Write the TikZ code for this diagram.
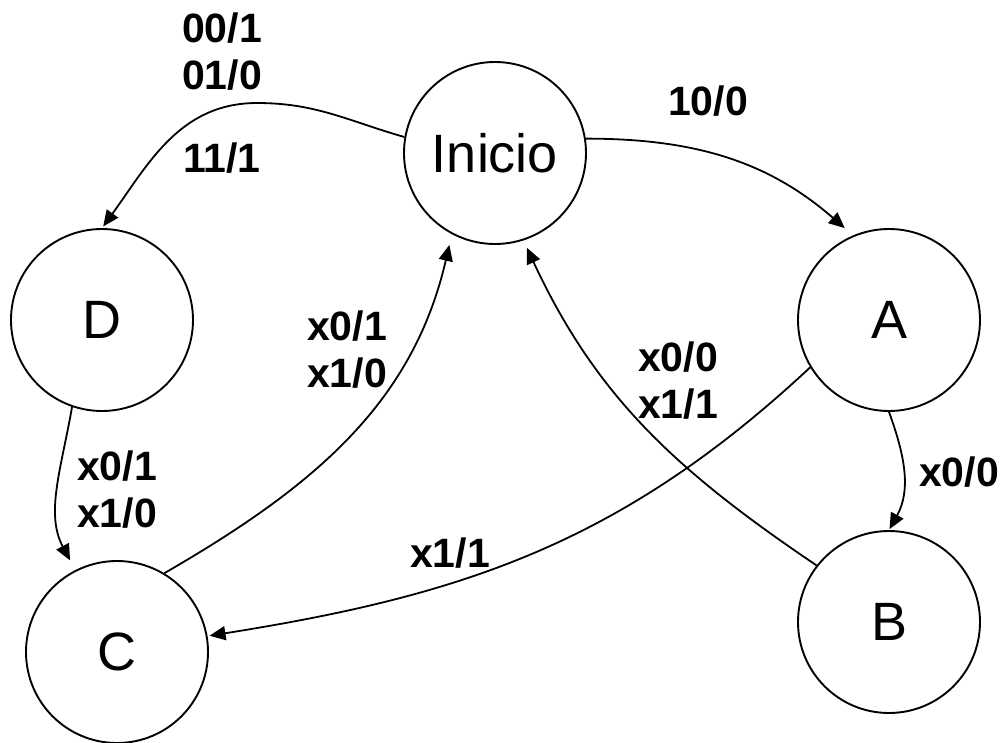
\documentclass[tikz,border=0pt]{standalone}
\usepackage{fontspec}
\setmainfont{Liberation Sans}
\usetikzlibrary{arrows.meta}
\tikzset{
  state/.style={circle,draw=black,line width=1.9pt,minimum size=182pt,inner sep=0pt,font=\fontsize{54}{60}\selectfont},
  lbl/.style={align=left,inner sep=0pt,font=\fontsize{41}{47}\selectfont\bfseries},
  edge/.style={line width=1.8pt,-{Triangle[length=16pt,width=14pt]}}
}
\begin{document}
\begin{tikzpicture}[x=1pt,y=1pt]
\useasboundingbox (0,0) rectangle (1007,-742);
\node[state] (ini) at (495,-153) {Inicio};
\node[state] (D) at (102,-320) {D};
\node[state] (A) at (889,-320) {A};
\node[state] (C) at (117,-652) {C};
\node[state] (B) at (889,-622) {B};
\coordinate (k1) at (257,-103);
\draw[edge,shorten >=2pt] (ini.170) to[out=164,in=0] (k1) to[out=180,in=54] (D.90);
\draw[edge,shorten >=11pt] (ini.9) to[out=0,in=139] (A.113);
\draw[edge,shorten >=11pt] (D.251) to[out=260,in=118] (C.117);
\draw[edge,shorten >=11pt] (C.59) to[out=30,in=257] (ini.242);
\draw[edge,shorten >=8pt] (B.142) to[out=146,in=295] (ini.288);
\draw[edge,shorten >=1pt] (A.270) to[out=290,in=61] (B.90);
\draw[edge,shorten >=2pt] (A.211) to[out=223,in=9] (C.10);
\node[lbl] (l1) at (222,-52) {00/1\\01/0};
\node[lbl] (l2) at (222,-158) {11/1};
\node[lbl] (l3) at (708,-101) {10/0};
\node[lbl] (l4) at (347,-350) {x0/1\\x1/0};
\node[lbl] (l5) at (678,-381) {x0/0\\x1/1};
\node[lbl] (l6) at (117,-490) {x0/1\\x1/0};
\node[lbl] (l7) at (959,-472) {x0/0};
\node[lbl] (l8) at (450,-553) {x1/1};
\end{tikzpicture}
\end{document}
